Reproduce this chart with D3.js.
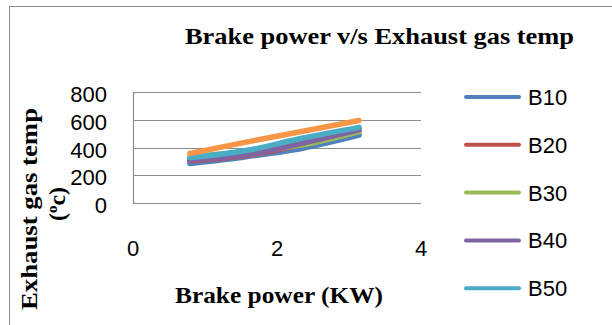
<!DOCTYPE html>
<html>
<head>
<meta charset="utf-8">
<script src="https://cdn.jsdelivr.net/npm/d3@7"></script>
<style>
  body { margin: 0; background: #fff; }
  svg { display: block; }
</style>
</head>
<body>
<div id="app"></div>
<script>
const width = 612;
const height = 325;

// brake power (kW) at each load step
const power = [0.79, 1.57, 2.36, 3.14];

// exhaust gas temp (deg C)
const b10 = [284, 334, 395, 489];
const b20 = [304, 342, 425, 539];
const b30 = [334, 370, 419, 514];
const b40 = [310, 347, 432, 527];
const b50 = [326, 378, 468, 545];
const diesel = [357, 439, 517, 595];

const seriesNames = ['B10', 'B20', 'B30', 'B40', 'B50', 'Diesel'];
const seriesValues = [b10, b20, b30, b40, b50, diesel];
const colors = ['#4F81BD', '#C0504D', '#9BBB59', '#8064A2', '#4BACC6', '#F79646'];

const xTicks = [0, 2, 4];
const yTicks = [0, 200, 400, 600, 800];

const plot = { left: 133, right: 421, top: 92, bottom: 203 };
const sans = '22px "Liberation Sans", sans-serif';
const serif = 'bold 24px "Liberation Serif", serif';

const svg = d3.select('#app').append('svg')
  .attr('width', width)
  .attr('height', height);

// chart border (runs off the right and bottom)
svg.append('rect')
  .attr('x', 9.5).attr('y', 6.5)
  .attr('width', 640).attr('height', 340)
  .attr('fill', 'none')
  .attr('stroke', '#8c8c8c')
  .attr('stroke-width', 1);

const x = d3.scaleLinear().domain([0, 4]).range([plot.left, plot.right]);
const y = d3.scaleLinear().domain([0, 800]).range([plot.bottom, plot.top]);

// gridlines
svg.append('g')
  .selectAll('line').data(yTicks)
  .enter().append('line')
  .attr('x1', plot.left).attr('x2', plot.right)
  .attr('y1', d => Math.round(y(d)) + 0.5)
  .attr('y2', d => Math.round(y(d)) + 0.5)
  .attr('stroke', '#8c8c8c')
  .attr('stroke-width', 1.2);

svg.append('line')
  .attr('x1', plot.left + 0.5).attr('x2', plot.left + 0.5)
  .attr('y1', y(800)).attr('y2', y(0) + 1)
  .attr('stroke', '#8c8c8c')
  .attr('stroke-width', 1.2);

// tick labels
svg.append('g')
  .selectAll('text').data(yTicks)
  .enter().append('text')
  .attr('x', 107)
  .attr('y', d => y(d) + 10)
  .attr('text-anchor', 'end')
  .style('font', sans)
  .text(d => d);

svg.append('g')
  .selectAll('text').data(xTicks)
  .enter().append('text')
  .attr('x', d => x(d))
  .attr('y', 256)
  .attr('text-anchor', 'middle')
  .style('font', sans)
  .text(d => d);

// lines
const line = d3.line()
  .x((d, i) => x(power[i]))
  .y(d => y(d))
  .curve(d3.curveMonotoneX);

svg.append('g')
  .selectAll('path').data(seriesValues)
  .enter().append('path')
  .attr('d', d => line(d))
  .attr('fill', 'none')
  .attr('stroke', (d, i) => colors[i])
  .attr('stroke-width', 5.5)
  .attr('stroke-linecap', 'round')
  .attr('stroke-linejoin', 'round');

// titles
svg.append('text')
  .attr('x', 185).attr('y', 44)
  .attr('textLength', 389)
  .attr('lengthAdjust', 'spacingAndGlyphs')
  .style('font', serif)
  .text('Brake power  v/s Exhaust gas temp');

svg.append('text')
  .attr('x', 175).attr('y', 303)
  .attr('textLength', 208)
  .attr('lengthAdjust', 'spacingAndGlyphs')
  .style('font', serif)
  .text('Brake power  (KW)');

svg.append('text')
  .attr('transform', 'translate(37,310) rotate(-90)')
  .attr('textLength', 202)
  .attr('lengthAdjust', 'spacingAndGlyphs')
  .style('font', serif)
  .text('Exhaust gas temp');

const unit = svg.append('text')
  .attr('transform', 'translate(65,204) rotate(-90)')
  .attr('text-anchor', 'middle')
  .style('font', serif);
unit.append('tspan').text('(');
unit.append('tspan').attr('dy', -8).style('font-size', '15px').text('o');
unit.append('tspan').attr('dy', 8).text('c)');

// legend (last series falls outside the picture)
const legend = svg.append('g')
  .selectAll('g').data(seriesNames.slice(0, 5))
  .enter().append('g')
  .attr('transform', (d, i) => `translate(466,${97 + i * 47.8})`);

legend.append('line')
  .attr('x1', 0).attr('x2', 53)
  .attr('stroke', (d, i) => colors[i])
  .attr('stroke-width', 4)
  .attr('stroke-linecap', 'round');

legend.append('text')
  .attr('x', 62).attr('y', 8)
  .style('font', sans)
  .text(d => d);
</script>
</body>
</html>
